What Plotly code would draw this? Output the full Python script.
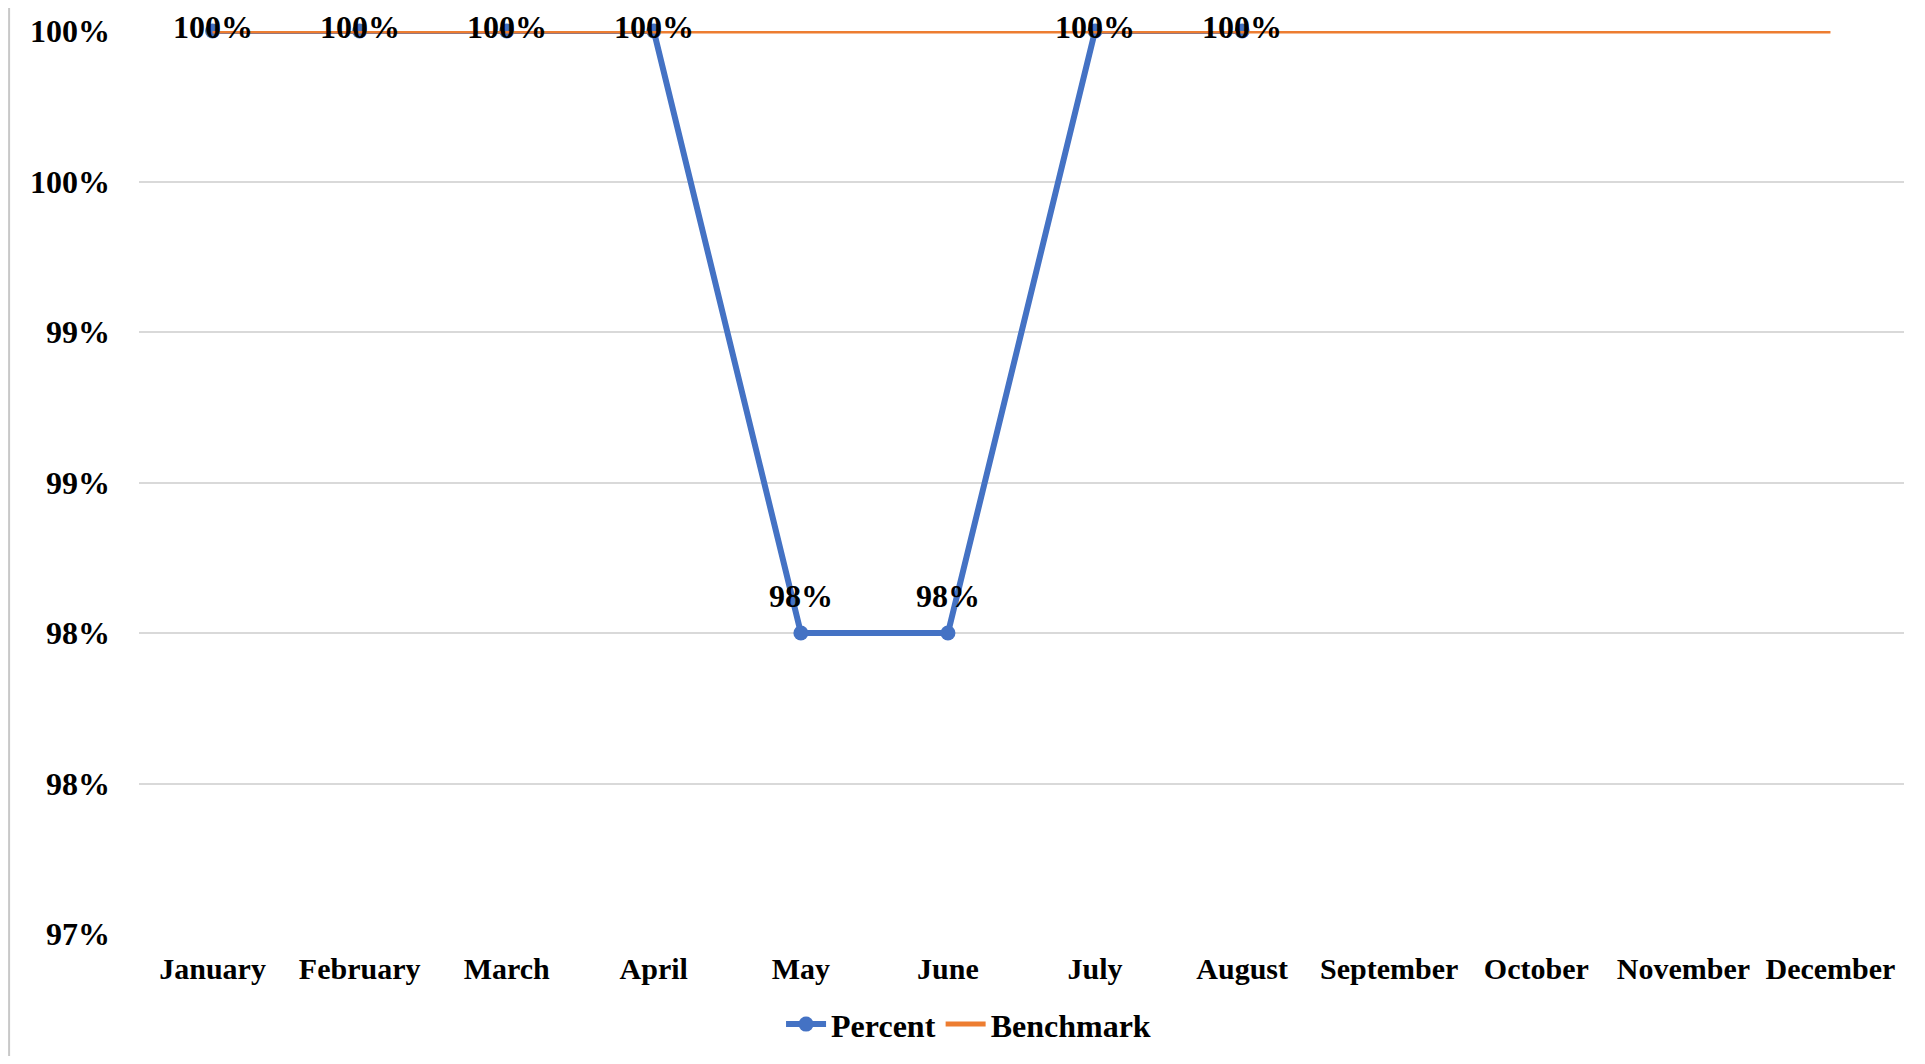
import plotly.graph_objects as go

months = ["January", "February", "March", "April", "May", "June",
          "July", "August", "September", "October", "November", "December"]
percent = [1.00, 1.00, 1.00, 1.00, 0.98, 0.98, 1.00, 1.00, None, None, None, None]
percent_labels = ["100%", "100%", "100%", "100%", "98%", "98%", "100%", "100%", "", "", "", ""]
benchmark = [1.00] * 12
y_tickvals = [0.97, 0.975, 0.98, 0.985, 0.99, 0.995, 1.00]
y_ticktext = ["97%", "98%", "98%", "99%", "99%", "100%", "100%"]

FONT = dict(family="Liberation Serif, Times New Roman, serif", size=30, color="black", weight="bold")
YFONT = dict(FONT, size=32)

fig = go.Figure()
fig.add_trace(go.Scatter(
    x=months, y=percent, name="Percent", mode="lines+markers",
    line=dict(color="#4472C4", width=6), marker=dict(size=15, color="#4472C4"),
    connectgaps=False, cliponaxis=False))
fig.add_trace(go.Scatter(
    x=months, y=benchmark, name="Benchmark", mode="lines",
    line=dict(color="#ED7D31", width=5), cliponaxis=False))

for m, v, t in zip(months, percent, percent_labels):
    if v is None or not t:
        continue
    shift = 4 if v >= 1.0 else 37
    fig.add_annotation(x=m, y=v, text=t, showarrow=False, yanchor="middle",
                       xanchor="center", yshift=shift, font=YFONT)

fig.update_layout(
    width=1909, height=1048,
    margin=dict(l=131, r=13, t=23, b=122, autoexpand=False),
    paper_bgcolor="white", plot_bgcolor="white",
    font=FONT,
    showlegend=True,
    legend=dict(orientation="h", x=0.47, xanchor="center", y=-0.100, yanchor="middle",
                font=YFONT, bgcolor="rgba(0,0,0,0)", itemwidth=40),
    xaxis=dict(type="category", range=[-0.5, 11.5], showgrid=False, showline=False,
               zeroline=False, ticks="", ticklabelstandoff=14, tickfont=FONT, automargin=False),
    yaxis=dict(range=[0.97, 1.0], tickvals=y_tickvals, ticktext=y_ticktext,
               showgrid=True, gridcolor="#D9D9D9", gridwidth=1.5, zeroline=False,
               showline=False, ticks="", ticklabelstandoff=28, tickfont=YFONT, automargin=False),
    shapes=[
        dict(type="line", xref="paper", yref="paper", x0=-0.0736, x1=-0.0736, y0=-0.14, y1=1.03,
             line=dict(color="#C8C8C8", width=2)),
    ],
)

fig.write_html("out.html")
